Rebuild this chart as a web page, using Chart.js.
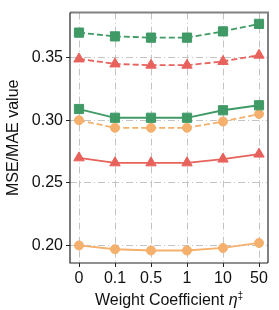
<!DOCTYPE html>
<html>
<head>
<meta charset="utf-8">
<script src="https://cdn.jsdelivr.net/npm/chart.js@4"></script>
<style>
  html, body { margin: 0; padding: 0; background: #fff; }
  #wrap { width: 279px; height: 310px; }
</style>
</head>
<body>
<div id="wrap"><canvas id="myChart" width="279" height="310"></canvas></div>
<script>
// x categories (weight coefficient)
const xLabels = ['0', '0.1', '0.5', '1', '10', '50'];
const yTicks = [0.20, 0.25, 0.30, 0.35];

const mseGreen = [0.370, 0.367, 0.366, 0.366, 0.371, 0.377];   // dashed, squares
const mseRed = [0.349, 0.345, 0.344, 0.344, 0.347, 0.352];     // dashed, triangles
const maeGreen = [0.309, 0.302, 0.302, 0.302, 0.308, 0.312];   // solid, squares
const mseOrange = [0.300, 0.294, 0.294, 0.294, 0.299, 0.305];  // dashed, circles
const maeRed = [0.270, 0.266, 0.266, 0.266, 0.269, 0.273];     // solid, triangles
const maeOrange = [0.200, 0.197, 0.196, 0.196, 0.198, 0.202];  // solid, circles

const green = '#3f9a66';
const red = '#e8625c';
const orange = '#f4b06c';
const font = "'Liberation Sans', Arial, sans-serif";

function pts(arr) {
  return arr.map((v, i) => ({x: i, y: v}));
}

function series(data, color, style, dashed) {
  return {
    data: pts(data),
    borderColor: color,
    backgroundColor: color,
    borderWidth: 1.8,
    borderDash: dashed ? [6, 3] : [],
    pointStyle: style,
    pointRadius: style === 'rect' ? 6.5 : (style === 'triangle' ? 6 : 4.5),
    pointBorderWidth: 1,
    pointBorderColor: color,
    tension: 0
  };
}

// frame around plot area: dark left/bottom, grey top/right
const frame = {
  id: 'frame',
  afterDatasetsDraw(chart) {
    const {ctx, chartArea: a} = chart;
    ctx.save();
    ctx.lineWidth = 2;
    ctx.strokeStyle = '#808080';
    ctx.beginPath();
    ctx.moveTo(a.left, a.top);
    ctx.lineTo(a.right, a.top);
    ctx.lineTo(a.right, a.bottom);
    ctx.stroke();
    ctx.lineWidth = 1.2;
    ctx.strokeStyle = '#222';
    ctx.beginPath();
    ctx.moveTo(a.left, a.top);
    ctx.lineTo(a.left, a.bottom);
    ctx.lineTo(a.right, a.bottom);
    ctx.stroke();
    ctx.restore();
  }
};

// x title with italic eta and raised double dagger
const xTitle = {
  id: 'xTitle',
  afterDraw(chart) {
    const {ctx, chartArea: a} = chart;
    const parts = [
      {t: 'Weight Coefficient ', f: '16px ' + font, dy: 0},
      {t: '\u03b7', f: 'italic 16px ' + font, dy: 0},
      {t: '\u2021', f: '10px ' + font, dy: -6}
    ];
    ctx.save();
    ctx.fillStyle = '#111';
    ctx.textBaseline = 'alphabetic';
    let total = 0;
    parts.forEach(p => { ctx.font = p.f; p.w = ctx.measureText(p.t).width; total += p.w; });
    let x = (a.left + a.right) / 2 - total / 2;
    const y = 305;
    parts.forEach(p => {
      ctx.font = p.f;
      ctx.fillText(p.t, x, y + p.dy);
      x += p.w;
    });
    ctx.restore();
  }
};

const gridOpts = {
  color: '#c4c4c4',
  lineWidth: 1,
  drawTicks: true,
  tickLength: 4,
  tickColor: '#222',
  tickBorderDash: []
};

const ctx = document.getElementById('myChart');
new Chart(ctx, {
  type: 'line',
  data: {
    datasets: [
      series(mseGreen, green, 'rect', true),
      series(mseRed, red, 'triangle', true),
      series(maeGreen, green, 'rect', false),
      series(mseOrange, orange, 'circle', true),
      series(maeRed, red, 'triangle', false),
      series(maeOrange, orange, 'circle', false)
    ]
  },
  options: {
    responsive: false,
    animation: false,
    layout: { padding: { top: 12, right: 11, left: 0, bottom: 0 } },
    plugins: { legend: { display: false }, tooltip: { enabled: false } },
    scales: {
      x: {
        type: 'linear',
        min: -0.25,
        max: 5.25,
        afterBuildTicks: s => { s.ticks = xLabels.map((_, i) => ({value: i})); },
        afterFit: s => { s.height = 47; },
        ticks: {
          callback: v => xLabels[v],
          color: '#111',
          font: { family: font, size: 16 },
          padding: 2,
          maxRotation: 0
        },
        grid: gridOpts,
        border: { display: false, dash: [7, 3, 1, 3] }
      },
      y: {
        min: 0.186,
        max: 0.386,
        afterBuildTicks: s => { s.ticks = yTicks.map(v => ({value: v})); },
        afterFit: s => { s.width = 70; },
        ticks: {
          callback: v => v.toFixed(2),
          color: '#111',
          font: { family: font, size: 16 },
          padding: 3
        },
        grid: gridOpts,
        border: { display: false, dash: [7, 3, 1, 3] },
        title: {
          display: true,
          text: 'MSE/MAE value',
          color: '#111',
          font: { family: font, size: 16 },
          padding: { top: 4, bottom: 0 }
        }
      }
    }
  },
  plugins: [frame, xTitle]
});
</script>
</body>
</html>
